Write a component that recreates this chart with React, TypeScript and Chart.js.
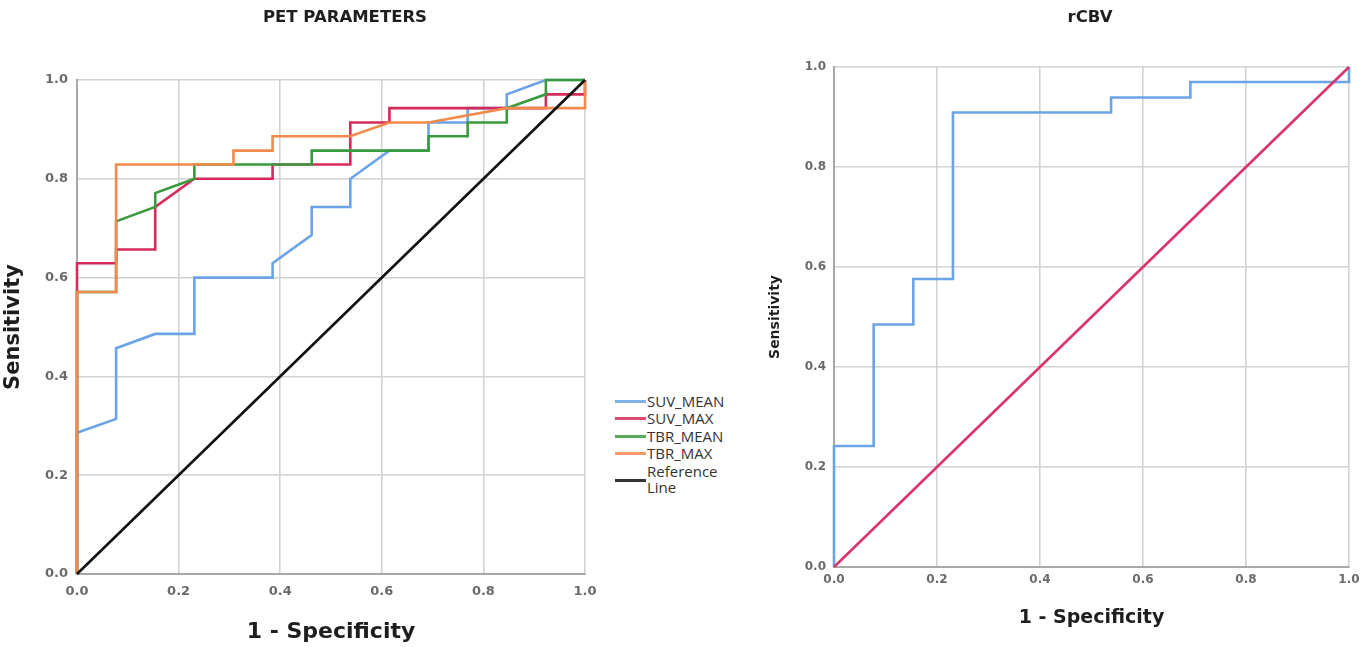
import React, { useEffect, useRef } from 'react';
import { Chart, registerables } from 'chart.js';

Chart.register(...registerables);

// ---------- DATA ----------
const tickValues = [0, 0.2, 0.4, 0.6, 0.8, 1.0];

const suvMeanFpr = [0, 0, 0.077, 0.077, 0.154, 0.231, 0.231, 0.385, 0.385, 0.462, 0.462, 0.538, 0.538, 0.615, 0.692, 0.692, 0.769, 0.769, 0.846, 0.846, 0.923, 1];
const suvMeanTpr = [0, 0.286, 0.314, 0.457, 0.486, 0.486, 0.6, 0.6, 0.629, 0.686, 0.743, 0.743, 0.8, 0.857, 0.857, 0.914, 0.914, 0.943, 0.943, 0.971, 1, 1];

const suvMaxFpr = [0, 0, 0.077, 0.077, 0.154, 0.154, 0.231, 0.385, 0.385, 0.538, 0.538, 0.615, 0.615, 0.923, 0.923, 1, 1];
const suvMaxTpr = [0, 0.629, 0.629, 0.657, 0.657, 0.743, 0.8, 0.8, 0.829, 0.829, 0.914, 0.914, 0.943, 0.943, 0.971, 0.971, 1];

const tbrMeanFpr = [0, 0, 0.077, 0.077, 0.154, 0.154, 0.231, 0.231, 0.462, 0.462, 0.692, 0.692, 0.769, 0.769, 0.846, 0.846, 0.923, 0.923, 1];
const tbrMeanTpr = [0, 0.571, 0.571, 0.714, 0.743, 0.771, 0.8, 0.829, 0.829, 0.857, 0.857, 0.886, 0.886, 0.914, 0.914, 0.943, 0.971, 1, 1];

const tbrMaxFpr = [0, 0, 0.077, 0.077, 0.308, 0.308, 0.385, 0.385, 0.538, 0.615, 0.692, 0.846, 1, 1];
const tbrMaxTpr = [0, 0.571, 0.571, 0.829, 0.829, 0.857, 0.857, 0.886, 0.886, 0.914, 0.914, 0.943, 0.943, 1];

const referenceFpr = [0, 1];
const referenceTpr = [0, 1];

const rcbvFpr = [0, 0, 0.077, 0.077, 0.154, 0.154, 0.231, 0.231, 0.538, 0.538, 0.692, 0.692, 1, 1];
const rcbvTpr = [0, 0.242, 0.242, 0.485, 0.485, 0.576, 0.576, 0.909, 0.909, 0.939, 0.939, 0.970, 0.970, 1];

const legendLabels = ['SUV_MEAN', 'SUV_MAX', 'TBR_MEAN', 'TBR_MAX', 'Reference Line'];

// ---------- STYLE ----------
const FONT = "'Open Sans', 'DejaVu Sans', sans-serif";
const TFONT = "'DejaVu Sans', 'Open Sans', sans-serif";
const C_BLUE = '#6aa4e6';
const C_RED = '#d62a5a';
const C_GREEN = '#3a9a3e';
const C_ORANGE = '#f28a4c';
const C_BLACK = '#111111';
const C_CRIMSON = '#dc3468';
const GRID = '#d2d2d2';

const pts = (xs: number[], ys: number[]) => xs.map((x, i) => ({ x, y: ys[i] }));

const line = (label: string, xs: number[], ys: number[], color: string, order: number) => ({
  label,
  data: pts(xs, ys),
  borderColor: color,
  backgroundColor: color,
  borderWidth: 2.6,
  pointRadius: 0,
  showLine: true,
  tension: 0,
  clip: 6,
  order,
});

function makeOptions(o: {
  padTop: number; padRight: number; yWidth: number; xHeight: number;
  tickSize: number; xTickPad: number; yTickPad: number;
  xTitleSize: number; xTitlePad: number; yTitleSize: number; yTitlePad: number;
}) {
  const tickFont = { family: TFONT, size: o.tickSize, weight: 'bold' as const };
  return {
    responsive: false,
    animation: false as const,
    layout: { padding: { top: o.padTop, right: o.padRight, left: 0, bottom: 0 } },
    plugins: { legend: { display: false }, tooltip: { enabled: false }, title: { display: false } },
    scales: {
      x: {
        type: 'linear' as const,
        min: 0,
        max: 1,
        afterBuildTicks: (s: any) => { s.ticks = tickValues.map((v) => ({ value: v })); },
        ticks: {
          callback: (v: any) => Number(v).toFixed(1),
          font: tickFont,
          color: '#6a6a6a',
          padding: o.xTickPad,
          maxRotation: 0,
        },
        grid: { color: GRID, lineWidth: 1.6, drawTicks: false },
        border: { color: '#a8a8a8', width: 2 },
        title: {
          display: true,
          text: '1 - Specificity',
          font: { family: TFONT, size: o.xTitleSize, weight: 'bold' as const },
          color: '#1e1e1e',
          padding: { top: 0, bottom: o.xTitlePad },
        },
        afterFit: (s: any) => { s.height = o.xHeight; s.paddingLeft = 0; s.paddingRight = 0; },
      },
      y: {
        type: 'linear' as const,
        min: 0,
        max: 1,
        afterBuildTicks: (s: any) => { s.ticks = tickValues.map((v) => ({ value: v })); },
        ticks: {
          callback: (v: any) => Number(v).toFixed(1),
          font: tickFont,
          color: '#6a6a6a',
          padding: o.yTickPad,
        },
        grid: { color: GRID, lineWidth: 1.6, drawTicks: false },
        border: { color: '#a8a8a8', width: 2 },
        title: {
          display: true,
          text: 'Sensitivity',
          font: { family: TFONT, size: o.yTitleSize, weight: 'bold' as const },
          color: '#1e1e1e',
          padding: { top: o.yTitlePad, bottom: 0 },
        },
        afterFit: (s: any) => { s.width = o.yWidth; s.paddingTop = 0; s.paddingBottom = 0; },
      },
    },
  };
}

function ChartCanvas({ config, width, height, left }: { config: any; width: number; height: number; left: number }) {
  const ref = useRef<HTMLCanvasElement | null>(null);
  useEffect(() => {
    if (!ref.current) return;
    const chart = new Chart(ref.current, config);
    return () => chart.destroy();
  }, []);
  return (
    <canvas
      ref={ref}
      width={width}
      height={height}
      style={{ position: 'absolute', left, top: 0, width, height, display: 'block' }}
    />
  );
}

export default function App() {
  const leftConfig = {
    type: 'scatter',
    data: {
      datasets: [
        line(legendLabels[0], suvMeanFpr, suvMeanTpr, C_BLUE, 5),
        line(legendLabels[1], suvMaxFpr, suvMaxTpr, C_RED, 4),
        line(legendLabels[2], tbrMeanFpr, tbrMeanTpr, C_GREEN, 3),
        line(legendLabels[3], tbrMaxFpr, tbrMaxTpr, C_ORANGE, 2),
        line(legendLabels[4], referenceFpr, referenceTpr, C_BLACK, 1),
      ],
    },
    options: makeOptions({
      padTop: 80, padRight: 15, yWidth: 77, xHeight: 73,
      tickSize: 13, xTickPad: 10, yTickPad: 9,
      xTitleSize: 22, xTitlePad: 2, yTitleSize: 21, yTitlePad: 1,
    }),
  };

  const rightConfig = {
    type: 'scatter',
    data: {
      datasets: [
        line('rCBV', rcbvFpr, rcbvTpr, C_BLUE, 2),
        line('Reference Line', referenceFpr, referenceTpr, C_CRIMSON, 1),
      ],
    },
    options: makeOptions({
      padTop: 67, padRight: 13, yWidth: 74, xHeight: 80,
      tickSize: 12, xTickPad: 6, yTickPad: 8,
      xTitleSize: 19, xTitlePad: 18, yTitleSize: 14, yTitlePad: 7,
    }),
  };

  const legendColors = [C_BLUE, C_RED, C_GREEN, C_ORANGE, C_BLACK];
  const legendRowY = [401, 418, 436, 453, 480];

  return (
    <div style={{ position: 'fixed', left: 0, top: 0, width: 1362, height: 647, background: '#fff', overflow: 'hidden', fontFamily: FONT }}>
      <ChartCanvas config={leftConfig} width={600} height={647} left={0} />
      <ChartCanvas config={rightConfig} width={602} height={647} left={760} />

      <div style={{ position: 'absolute', left: 195, width: 300, top: 6, textAlign: 'center', fontFamily: TFONT, fontSize: 16.5, fontWeight: 700, color: '#1e1e1e', lineHeight: '22px' }}>
        PET PARAMETERS
      </div>
      <div style={{ position: 'absolute', left: 990, width: 200, top: 6, textAlign: 'center', fontFamily: TFONT, fontSize: 16.5, fontWeight: 700, color: '#1e1e1e', lineHeight: '22px' }}>
        rCBV
      </div>

      {legendLabels.map((lab, i) => {
        const cy = legendRowY[i];
        const isRef = i === 4;
        return (
          <React.Fragment key={lab}>
            <div style={{ position: 'absolute', left: 615, top: cy - 1.5, width: 31, height: 3, background: legendColors[i], opacity: 0.85 }} />
            <div style={{ position: 'absolute', left: 647, top: isRef ? cy - 17 : cy - 9, fontSize: 15, lineHeight: isRef ? '16px' : '18px', color: '#333', whiteSpace: 'pre' }}>
              {isRef ? 'Reference\nLine' : lab}
            </div>
          </React.Fragment>
        );
      })}
    </div>
  );
}
